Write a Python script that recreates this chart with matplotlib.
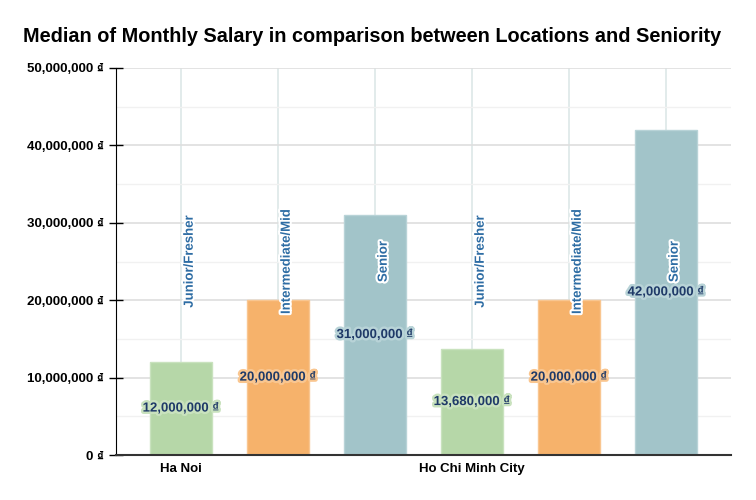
#!/usr/bin/env python3
"""Median monthly salary by location and seniority, grouped bars."""

import matplotlib
matplotlib.use("Agg")
import matplotlib.pyplot as plt
import matplotlib.patheffects as pe
from matplotlib.ticker import FuncFormatter, MultipleLocator

plt.rcParams["font.family"] = ["Liberation Sans", "DejaVu Sans"]

# --- data -------------------------------------------------------------------
locations = ["Ha Noi", "Ho Chi Minh City"]
seniority = ["Junior/Fresher", "Intermediate/Mid", "Senior"]
salary_hanoi = [12_000_000, 20_000_000, 31_000_000]
salary_hcmc = [13_680_000, 20_000_000, 42_000_000]

COLORS = ["#b6d7a8", "#f6b26b", "#a2c4c9"]
EDGES = ["#c9e2be", "#f9c690", "#b8d3d7"]
VALUE_COLOR = "#1f3a68"
LEVEL_COLOR = "#2e6da4"


def money(v, _pos=None):
    return f"{v:,.0f} \u20ab"


fig = plt.figure(figsize=(7.56, 5.0), dpi=100)
ax = fig.add_axes([116 / 756, 45 / 500, (731 - 116) / 756, (455 - 68) / 500])

series = [salary_hanoi, salary_hcmc]
n_lvl = len(seniority)
for g, values in enumerate(series):
    for i, val in enumerate(values):
        x = g * n_lvl + i
        ax.axvline(x, color="#dde7e7", lw=1.2, zorder=0)
        ax.bar(x, val, width=0.64, color=COLORS[i], edgecolor=EDGES[i],
               linewidth=1.0, zorder=2)
        ax.text(x, val / 2, money(val), ha="center", va="center",
                fontsize=9.5, fontweight="bold", color=VALUE_COLOR, zorder=4,
                path_effects=[pe.withStroke(linewidth=3.5, foreground=EDGES[i])])
        ax.text(x + 0.09, 25_000_000, seniority[i], rotation=90,
                ha="center", va="center", fontsize=9.5, fontweight="bold",
                color=LEVEL_COLOR, zorder=4,
                path_effects=[pe.withStroke(linewidth=3, foreground="white")])

ax.set_xlim(-0.67, 2 * n_lvl - 1 + 0.67)
ax.set_ylim(0, 50_000_000)

ax.yaxis.set_major_locator(MultipleLocator(10_000_000))
ax.yaxis.set_minor_locator(MultipleLocator(5_000_000))
ax.yaxis.set_major_formatter(FuncFormatter(money))
ax.grid(axis="y", which="major", color="#dedede", lw=1.2, zorder=0)
ax.grid(axis="y", which="minor", color="#f1f1f1", lw=1.0, zorder=0)
ax.set_axisbelow(True)

ax.set_xticks([0, n_lvl])
ax.set_xticklabels(locations, fontsize=9.5, fontweight="bold")
ax.tick_params(axis="x", length=0, pad=6)
ax.tick_params(axis="y", which="major", direction="inout", length=10,
               width=1.0, labelsize=9.5, pad=4)
ax.tick_params(axis="y", which="minor", length=0)
for lbl in ax.get_yticklabels():
    lbl.set_fontweight("bold")

for side in ("top", "right"):
    ax.spines[side].set_visible(False)
ax.spines["left"].set_color("black")
ax.spines["bottom"].set_color("#333333")
ax.spines["bottom"].set_linewidth(1.5)

fig.text(372 / 756, 1 - 37 / 500,
         "Median of Monthly Salary in comparison between Locations and Seniority",
         ha="center", va="center", fontsize=14.3, fontweight="bold")

fig.savefig("out.png", dpi=100)
